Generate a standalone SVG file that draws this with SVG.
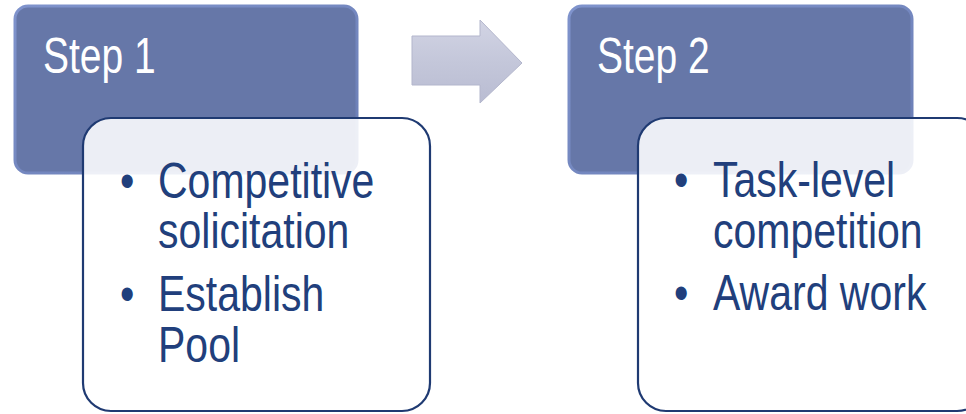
<svg xmlns="http://www.w3.org/2000/svg" width="966" height="414" viewBox="0 0 966 414">
  <defs>
    <linearGradient id="stepEdge" x1="0" y1="0" x2="1" y2="1">
      <stop offset="0" stop-color="#7f93cc"/>
      <stop offset="1" stop-color="#6a7db4"/>
    </linearGradient>
    <linearGradient id="arrowFill" x1="0" y1="0" x2="0" y2="1">
      <stop offset="0" stop-color="#d2d4e4"/>
      <stop offset="0.5" stop-color="#c4c7da"/>
      <stop offset="1" stop-color="#b9bcd2"/>
    </linearGradient>
    <style>
      .step { fill: #6677a8; stroke: url(#stepEdge); stroke-width: 3; }
      .stepText { font-family: "Liberation Sans", Arial, sans-serif; font-size: 39px; fill: #ffffff; }
      .card { fill: #ffffff; fill-opacity: 0.88; stroke: #1f3a72; stroke-width: 2.2; }
      .bullet { font-family: "Liberation Sans", Arial, sans-serif; font-size: 41px; fill: #213f7c; }
    </style>
  </defs>

  <g id="connectors">
    <g id="arrow">
      <polygon points="412,36 480,36 480,20 522,63 480,103 480,85 412,85" fill="url(#arrowFill)" stroke="#b3b6cc" stroke-width="1"/>
    </g>
  </g>

  <g id="step1">
    <rect x="15" y="6" width="342" height="167" rx="13" class="step"/>
    <text class="stepText" transform="translate(43,73) scale(1,1.27)">Step 1</text>
  </g>

  <g id="step2">
    <rect x="569" y="6" width="343" height="167" rx="13" class="step"/>
    <text class="stepText" transform="translate(597,73) scale(1,1.27)">Step 2</text>
  </g>

  <g id="card1">
    <rect x="83" y="118" width="347" height="293" rx="28" class="card"/>
    <text class="bullet" transform="translate(0,198) scale(1,1.24)"><tspan x="120" y="0">•</tspan><tspan x="158" y="0">Competitive</tspan><tspan x="158" y="40.3">solicitation</tspan><tspan x="120" y="91">•</tspan><tspan x="158" y="91">Establish</tspan><tspan x="158" y="132">Pool</tspan></text>
  </g>

  <g id="card2">
    <rect x="638" y="118" width="347" height="293" rx="28" class="card"/>
    <text class="bullet" transform="translate(0,197) scale(1,1.24)"><tspan x="674" y="0">•</tspan><tspan x="713" y="0">Task-level</tspan><tspan x="713" y="41.1">competition</tspan><tspan x="674" y="91.1">•</tspan><tspan x="713" y="91.1">Award work</tspan></text>
  </g>
</svg>
